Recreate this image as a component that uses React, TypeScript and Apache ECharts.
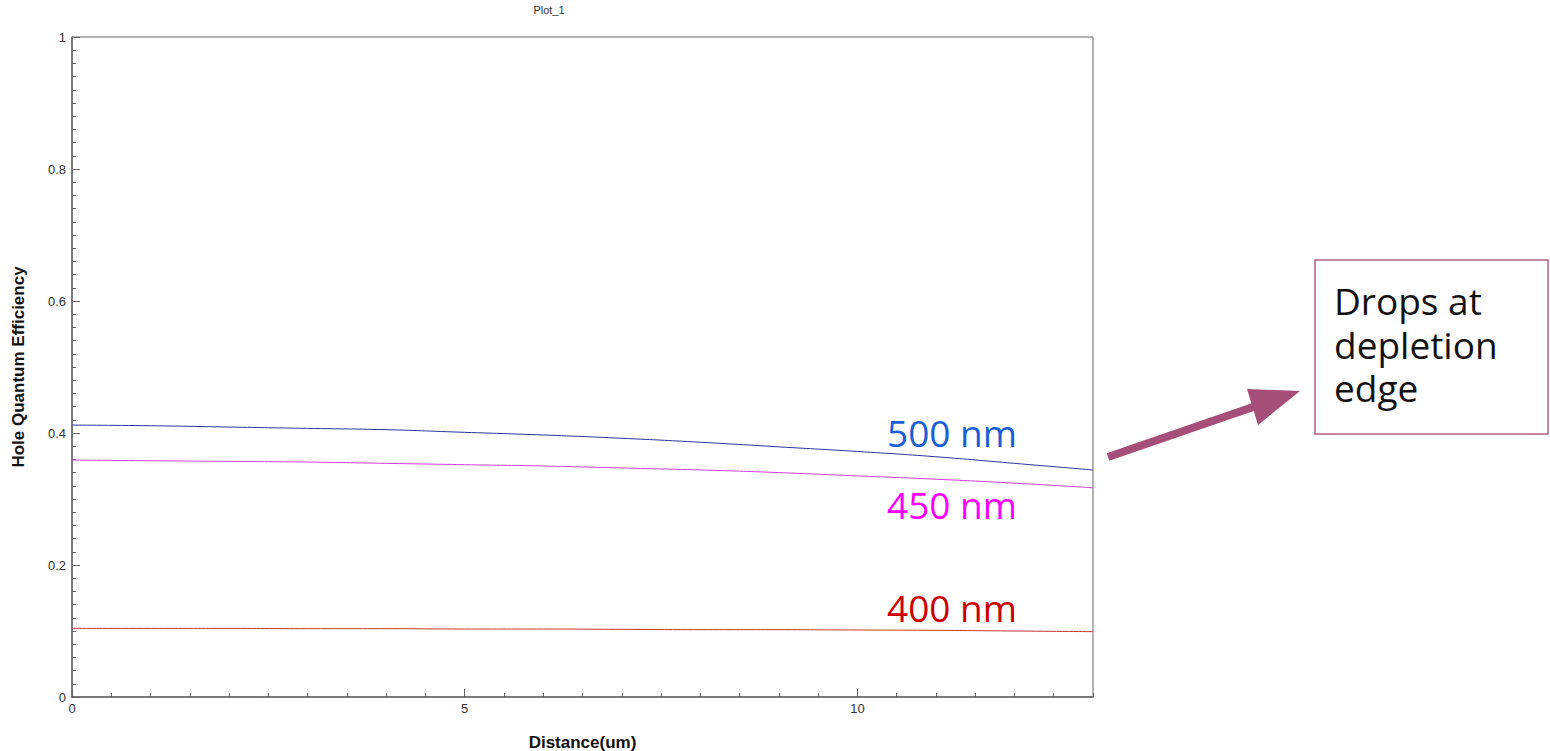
import React, { useEffect, useRef } from "react";
import * as echarts from "echarts";

const distance = [0, 1, 2, 3, 4, 5, 6, 7, 8, 9, 10, 11, 12, 13];
const qe500 = [0.412, 0.411, 0.409, 0.407, 0.405, 0.401, 0.397, 0.392, 0.386, 0.379, 0.372, 0.364, 0.354, 0.344];
const qe450 = [0.359, 0.358, 0.357, 0.356, 0.354, 0.352, 0.35, 0.347, 0.344, 0.34, 0.335, 0.33, 0.324, 0.317];
const qe400 = [0.104, 0.104, 0.104, 0.1035, 0.1035, 0.103, 0.103, 0.1025, 0.102, 0.102, 0.1015, 0.101, 0.1, 0.099];
const seriesNames = ["500 nm", "450 nm", "400 nm"];
const noteLines = ["Drops at", "depletion", "edge"];

const pairs = (ys: number[]) => distance.map((x, i) => [x, ys[i]]);

export default function App() {
  const ref = useRef<HTMLDivElement>(null);
  useEffect(() => {
    if (!ref.current) return;
    const chart = echarts.init(ref.current, null, { renderer: "svg" });
    const axisColor = "#666";
    const labelStyle = { color: "#333", fontFamily: "Liberation Sans", fontSize: 13 };
    const bigFont = "37px 'Open Sans'";
    chart.setOption({
      animation: false,
      backgroundColor: "#fff",
      title: {
        text: "Plot_1",
        left: 549,
        top: 4,
        padding: 0,
        textAlign: "center",
        textStyle: { fontFamily: "Liberation Sans", fontSize: 11, fontWeight: "normal", color: "#333" },
      },
      grid: {
        left: 72,
        right: 457,
        top: 37,
        bottom: 54,
        show: true,
        borderColor: axisColor,
        borderWidth: 1,
        backgroundColor: "transparent",
        outerBoundsMode: "none",
        containLabel: false,
      },
      xAxis: [
        {
          type: "value",
          min: 0,
          max: 13,
          interval: 5,
          position: "bottom",
          name: "Distance(um)",
          nameLocation: "middle",
          nameGap: 37,
          nameTextStyle: { fontFamily: "Liberation Sans", fontSize: 17, fontWeight: "bold", color: "#111" },
          axisLine: { show: true, lineStyle: { color: axisColor, width: 1.5 } },
          axisTick: { show: true, inside: true, length: 8, lineStyle: { color: axisColor } },
          axisLabel: { ...labelStyle, margin: 5, showMaxLabel: false },
          splitLine: { show: false },
        },
        {
          type: "value",
          min: 0,
          max: 13,
          interval: 0.5,
          position: "bottom",
          axisLine: { show: false },
          axisTick: { show: true, inside: true, length: 4, lineStyle: { color: axisColor } },
          axisLabel: { show: false },
          splitLine: { show: false },
        },
      ],
      yAxis: {
        type: "value",
        min: 0,
        max: 1,
        interval: 0.2,
        name: "Hole Quantum Efficiency",
        nameLocation: "middle",
        nameGap: 45,
        nameTextStyle: { fontFamily: "Liberation Sans", fontSize: 17, fontWeight: "bold", color: "#111" },
        axisLine: { show: true, lineStyle: { color: axisColor, width: 1.5 } },
        axisTick: { show: true, inside: true, length: 8, lineStyle: { color: axisColor } },
        minorTick: { show: true, splitNumber: 10, length: 4, lineStyle: { color: axisColor } },
        axisLabel: { ...labelStyle, margin: 6, formatter: (v: number) => String(+v.toFixed(1)) },
        splitLine: { show: false },
      },
      series: [
        { name: seriesNames[0], type: "line", data: pairs(qe500), showSymbol: false, smooth: true, lineStyle: { color: "#30309c", width: 1 }, itemStyle: { color: "#30309c" } },
        { name: seriesNames[1], type: "line", data: pairs(qe450), showSymbol: false, smooth: true, lineStyle: { color: "#d040d8", width: 1 }, itemStyle: { color: "#d040d8" } },
        { name: seriesNames[2], type: "line", data: pairs(qe400), showSymbol: false, smooth: true, lineStyle: { color: "#c83030", width: 1 }, itemStyle: { color: "#c83030" } },
      ],
      graphic: [
        { type: "text", x: 887, y: 432, style: { text: seriesNames[0], font: bigFont, fill: "#1a5fd6", verticalAlign: "middle" } },
        { type: "text", x: 887, y: 504, style: { text: seriesNames[1], font: bigFont, fill: "#ff00ff", verticalAlign: "middle" } },
        { type: "text", x: 887, y: 607, style: { text: seriesNames[2], font: bigFont, fill: "#cc0000", verticalAlign: "middle" } },
        { type: "rect", shape: { x: 1315, y: 260, width: 233, height: 174 }, style: { fill: "#fff", stroke: "#b0607f", lineWidth: 1.5 } },
        { type: "text", x: 1334, y: 300, style: { text: noteLines[0], font: bigFont, fill: "#111", verticalAlign: "middle" } },
        { type: "text", x: 1334, y: 344, style: { text: noteLines[1], font: bigFont, fill: "#111", verticalAlign: "middle" } },
        { type: "text", x: 1334, y: 387, style: { text: noteLines[2], font: bigFont, fill: "#111", verticalAlign: "middle" } },
        { type: "line", shape: { x1: 1108, y1: 457, x2: 1256, y2: 406 }, style: { stroke: "#a54e78", lineWidth: 8 } },
        { type: "polygon", shape: { points: [[1247, 389], [1300, 391], [1258, 425]] }, style: { fill: "#a54e78" } },
      ],
    });
    return () => chart.dispose();
  }, []);
  return <div ref={ref} style={{ position: "fixed", left: 0, top: 0, width: 1550, height: 751, background: "#fff" }} />;
}
